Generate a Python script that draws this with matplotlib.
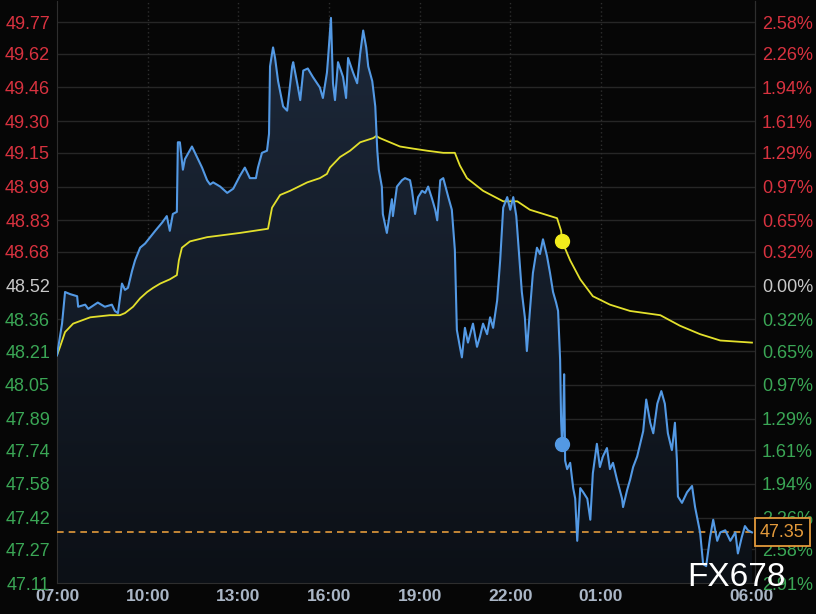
import matplotlib
matplotlib.use("Agg")
import matplotlib.pyplot as plt
import matplotlib.transforms as mtransforms
import numpy as np

# minutes since 07:00 and last price
minutes = [0, 10, 16, 26, 40, 42, 56, 62, 81, 95, 109, 115, 121, 129, 135, 141, 149, 155,
           165, 175, 185, 195, 209, 218, 224, 230, 238, 240, 244, 250, 254, 268, 278, 288,
           298, 304, 310, 324, 338, 350, 363, 373, 383, 395, 399, 407, 417, 421, 423, 429,
           433, 439, 449, 457, 467, 469, 477, 483, 489, 498, 508, 522, 528, 536, 538, 544,
           548, 552, 558, 568, 574, 578, 588, 596, 602, 608, 614, 618, 626, 632, 636, 639,
           645, 647, 655, 665, 667, 675, 685, 691, 701, 705, 711, 717, 725, 731, 737, 745,
           751, 755, 761, 767, 777, 784, 790, 794, 800, 804, 810, 816, 826, 834, 840, 846,
           854, 860, 866, 874, 880, 886, 894, 900, 906, 912, 916, 923, 929, 933, 939, 945,
           953, 959, 965, 973, 979, 985, 991, 995, 997, 999, 1001, 1003, 1005, 1007, 1009,
           1013, 1019, 1025, 1029, 1033, 1039, 1045, 1053, 1059, 1064, 1072, 1078, 1084,
           1092, 1098, 1104, 1112, 1122, 1124, 1132, 1138, 1144, 1152, 1158, 1164, 1170,
           1178, 1184, 1192, 1200, 1207, 1213, 1221, 1227, 1231, 1233, 1241, 1251, 1261,
           1267, 1277, 1283, 1289, 1297, 1303, 1311, 1317, 1327, 1337, 1347, 1352, 1360,
           1366, 1372, 1380]
price = [48.19, 48.34, 48.49, 48.48, 48.47, 48.42, 48.43, 48.41, 48.44, 48.42, 48.43, 48.40,
         48.39, 48.53, 48.50, 48.51, 48.59, 48.64, 48.70, 48.72, 48.75, 48.78, 48.82, 48.85,
         48.78, 48.86, 48.87, 49.20, 49.20, 49.07, 49.12, 49.18, 49.13, 49.08, 49.02, 49.00,
         49.01, 48.99, 48.96, 48.98, 49.04, 49.08, 49.03, 49.03, 49.08, 49.15, 49.16, 49.24,
         49.56, 49.65, 49.60, 49.49, 49.37, 49.35, 49.56, 49.58, 49.48, 49.40, 49.54, 49.55,
         49.51, 49.46, 49.41, 49.53, 49.59, 49.79, 49.48, 49.40, 49.58, 49.51, 49.41, 49.60,
         49.53, 49.48, 49.62, 49.73, 49.65, 49.56, 49.49, 49.37, 49.16, 49.07, 48.99, 48.86,
         48.77, 48.93, 48.85, 48.99, 49.02, 49.03, 49.02, 48.97, 48.86, 48.94, 48.97, 48.96,
         48.99, 48.93, 48.88, 48.83, 49.02, 49.03, 48.94, 48.88, 48.69, 48.31, 48.23, 48.18,
         48.32, 48.25, 48.34, 48.23, 48.28, 48.34, 48.29, 48.37, 48.32, 48.45, 48.64, 48.89,
         48.94, 48.88, 48.94, 48.85, 48.72, 48.49, 48.37, 48.21, 48.40, 48.58, 48.70, 48.67,
         48.74, 48.66, 48.58, 48.49, 48.44, 48.40, 48.29, 48.17, 47.88, 47.77, 47.88, 48.10,
         47.69, 47.65, 47.68, 47.56, 47.51, 47.31, 47.56, 47.54, 47.51, 47.41, 47.63, 47.77,
         47.66, 47.71, 47.75, 47.65, 47.68, 47.60, 47.51, 47.47, 47.55, 47.60, 47.66, 47.71,
         47.77, 47.83, 47.98, 47.87, 47.82, 47.96, 48.02, 47.96, 47.82, 47.74, 47.87, 47.69,
         47.52, 47.49, 47.54, 47.57, 47.47, 47.35, 47.20, 47.19, 47.33, 47.41, 47.31, 47.35,
         47.36, 47.31, 47.35, 47.25, 47.33, 47.38, 47.36, 47.35]

# average price line
avg_minutes = [0, 6, 16, 32, 66, 105, 125, 135, 151, 165, 179, 191, 205, 224, 238, 242, 248,
               264, 298, 363, 419, 427, 443, 463, 497, 522, 536, 542, 562, 582, 602, 628,
               634, 641, 661, 681, 707, 735, 767, 790, 800, 814, 846, 886, 914, 939, 993,
               1001, 1003, 1019, 1039, 1064, 1098, 1138, 1198, 1237, 1277, 1317, 1380]
avg_price = [48.19, 48.23, 48.30, 48.34, 48.37, 48.38, 48.38, 48.39, 48.42, 48.46, 48.49,
             48.51, 48.53, 48.55, 48.57, 48.64, 48.70, 48.73, 48.75, 48.77, 48.79, 48.89,
             48.95, 48.97, 49.01, 49.03, 49.05, 49.08, 49.13, 49.16, 49.20, 49.22, 49.23,
             49.22, 49.20, 49.18, 49.17, 49.16, 49.15, 49.15, 49.09, 49.03, 48.97, 48.92,
             48.92, 48.88, 48.84, 48.78, 48.73, 48.64, 48.55, 48.47, 48.43, 48.40, 48.38,
             48.33, 48.29, 48.26, 48.25]

marker_minute = 1003
last_price = 47.35
prev_close = 48.52

left_ticks = [49.77, 49.62, 49.46, 49.30, 49.15, 48.99, 48.83, 48.68, 48.52,
              48.36, 48.21, 48.05, 47.89, 47.74, 47.58, 47.42, 47.27, 47.11]
right_labels = ['2.58%', '2.26%', '1.94%', '1.61%', '1.29%', '0.97%', '0.65%', '0.32%', '0.00%',
                '0.32%', '0.65%', '0.97%', '1.29%', '1.61%', '1.94%', '2.26%', '2.58%', '2.91%']
time_ticks = [0, 180, 360, 540, 720, 900, 1080, 1380]
time_labels = ['07:00', '10:00', '13:00', '16:00', '19:00', '22:00', '01:00', '06:00']

RED = '#d8323f'
GREEN = '#3aa655'
NEUTRAL = '#c9c9c9'
BG = '#060606'

plt.rcParams['font.family'] = ['Liberation Sans', 'DejaVu Sans']

fig = plt.figure(figsize=(8.16, 6.14), dpi=100, facecolor=BG)
ax = fig.add_axes([57 / 816, 31 / 614, 698 / 816, 582 / 614], facecolor=BG)

ymin, ymax = 47.11, 49.87
xmax = 1386
ax.set_xlim(0, xmax)
ax.set_ylim(ymin, ymax)

# grid
for t in left_ticks:
    ax.axhline(t, color='#262626', lw=1.0, zorder=1)
for t in time_ticks[1:-1]:
    ax.axvline(t, color='#2e2e2e', lw=1.0, ls=(0, (1, 2)), zorder=1)

# gradient fill under the price line
poly = ax.fill_between(minutes, price, ymin, color='none', lw=0)
grad = np.linspace(1, 0, 256).reshape(-1, 1)
c_top = np.array([0x1d, 0x29, 0x3b]) / 255
c_bot = np.array([0x0c, 0x10, 0x16]) / 255
img = c_bot + (c_top - c_bot) * grad[..., None]
im = ax.imshow(img, extent=[0, xmax, ymin, ymax], aspect='auto', origin='upper', zorder=2)
path = poly.get_paths()[0]
im.set_clip_path(path, transform=ax.transData)

ax.plot(minutes, price, color='#5399e4', lw=1.5, zorder=4)
ax.plot(avg_minutes, avg_price, color='#e3e02c', lw=1.3, zorder=3)

mp = np.interp(marker_minute, minutes, price)
ma = np.interp(marker_minute, avg_minutes, avg_price)
ax.plot([marker_minute], [mp], 'o', color='#5399e4', ms=10, zorder=5)
ax.plot([marker_minute], [ma], 'o', color='#f2ec1c', ms=10, zorder=5)

ax.axhline(last_price, color='#e39a3b', lw=1.2, ls=(0, (4, 3)), zorder=3)

# axes styling
ax.spines['top'].set_visible(False)
for side in ['left', 'right', 'bottom']:
    ax.spines[side].set_color('#2e2e2e')

ax.set_yticks(left_ticks)
ax.set_yticklabels(['%.2f' % v for v in left_ticks], fontsize=13)
ax.tick_params(axis='y', length=0, pad=5)
for lab, v in zip(ax.get_yticklabels(), left_ticks):
    lab.set_color(RED if v > prev_close + 1e-6 else (GREEN if v < prev_close - 1e-6 else NEUTRAL))

ax2 = ax.twinx()
ax2.set_ylim(ymin, ymax)
ax2.set_yticks(left_ticks)
ax2.set_yticklabels(right_labels, fontsize=13)
ax2.tick_params(axis='y', length=0, pad=5)
for lab, v in zip(ax2.get_yticklabels(), left_ticks):
    lab.set_color(RED if v > prev_close + 1e-6 else (GREEN if v < prev_close - 1e-6 else NEUTRAL))
for side in ['top', 'left', 'bottom']:
    ax2.spines[side].set_visible(False)
ax2.spines['right'].set_color('#2e2e2e')

ax.set_xticks(time_ticks)
ax.set_xticklabels(time_labels, fontsize=12.5, fontweight='bold', color='#aab6c6')
ax.tick_params(axis='x', length=0, pad=4)

# last price box
trans = mtransforms.blended_transform_factory(ax.transAxes, ax.transData)
ax2.text(1 + 5 / 698, last_price, '%.2f' % last_price, transform=trans, fontsize=13,
         color='#e39a3b', va='center', ha='left', zorder=6, clip_on=False,
         bbox=dict(boxstyle='square,pad=0.3', fc=BG, ec='#e39a3b', lw=1.3))

fig.text(736 / 816, 1 - 577 / 614, 'FX678', color='white', fontsize=24,
         ha='center', va='center', zorder=10)

fig.savefig('out.png', dpi=100, facecolor=BG)
